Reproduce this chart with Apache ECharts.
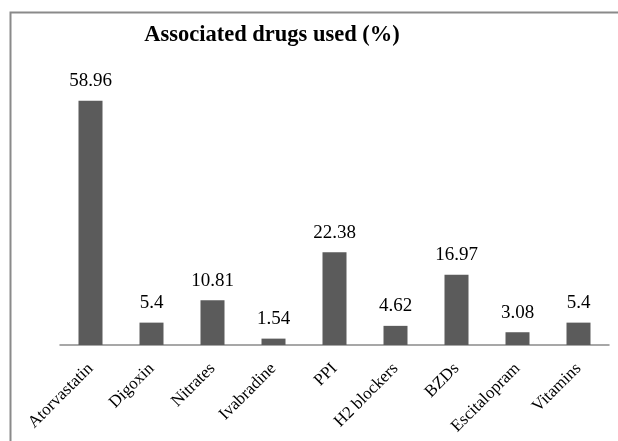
<!DOCTYPE html>
<html>
<head>
<meta charset="utf-8">
<script src="https://cdn.jsdelivr.net/npm/echarts@6/dist/echarts.min.js"></script>
<style>
  html, body { margin: 0; padding: 0; background: #fff; }
  #chart { width: 618px; height: 441px; }
</style>
</head>
<body>
<div id="chart"></div>
<script>
// Drug categories and share of patients using each (%)
const drugs = ['Atorvastatin', 'Digoxin', 'Nitrates', 'Ivabradine', 'PPI', 'H2 blockers', 'BZDs', 'Escitalopram', 'Vitamins'];
const usagePct = [58.96, 5.4, 10.81, 1.54, 22.38, 4.62, 16.97, 3.08, 5.4];
const chartTitle = 'Associated drugs used (%)';

const serif = '"Liberation Serif", "Times New Roman", Times, serif';
const chart = echarts.init(document.getElementById('chart'), null, { renderer: 'canvas' });

chart.setOption({
  animation: false,
  backgroundColor: '#ffffff',
  graphic: [{
    type: 'rect',
    shape: { x: 10.5, y: 12.5, width: 640, height: 460 },
    style: { fill: 'none', stroke: '#8a8a8a', lineWidth: 2 },
    silent: true
  }],
  title: {
    text: chartTitle,
    left: 267,
    top: 19,
    textAlign: 'center',
    textStyle: { fontFamily: serif, fontWeight: 'bold', fontSize: 22.5, color: '#000' }
  },
  grid: { left: 60, right: 9, top: 55, bottom: 96 },
  xAxis: {
    type: 'category',
    data: drugs,
    axisLine: { show: true, lineStyle: { color: '#8a8a8a', width: 1.5 } },
    axisTick: { show: false },
    axisLabel: {
      rotate: 45,
      interval: 0,
      margin: 21,
      fontFamily: serif,
      fontSize: 17,
      color: '#000'
    }
  },
  yAxis: {
    type: 'value',
    min: 0,
    max: 70,
    show: false,
    splitLine: { show: false }
  },
  series: [{
    type: 'bar',
    data: usagePct,
    barWidth: 24,
    itemStyle: { color: '#5b5b5b' },
    label: {
      show: true,
      position: 'top',
      distance: 10,
      fontFamily: serif,
      fontSize: 19,
      color: '#000'
    }
  }]
});
</script>
</body>
</html>
